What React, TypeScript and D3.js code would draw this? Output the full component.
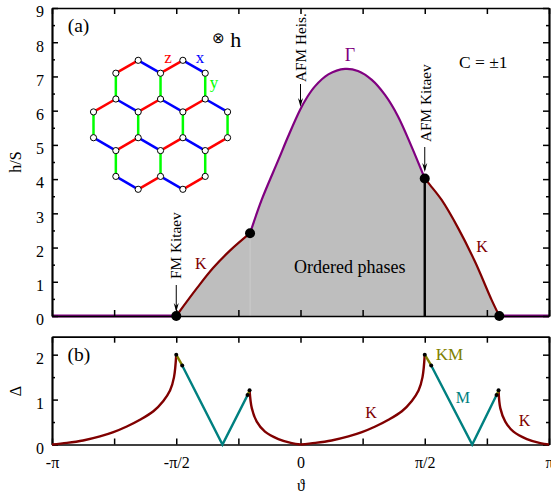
import React, { useEffect, useRef } from 'react';
import * as d3 from 'd3';

// angles are in units of pi
const kLeftTheta = [-0.5, -0.416, -0.352, -0.284, -0.203];
const kLeftH = [0, 0.82, 1.4, 1.91, 2.42];
const gammaTheta = [-0.203, -0.156, -0.089, -0.049, -0.002, 0.026, 0.058, 0.112, 0.179, 0.231, 0.287, 0.34, 0.392, 0.447, 0.5];
const gammaH = [2.42, 3.4, 4.56, 5.26, 6.02, 6.385, 6.71, 7.06, 7.22, 7.16, 6.9, 6.46, 5.84, 4.95, 4.02];
const kRightTheta = [0.5, 0.521, 0.568, 0.635, 0.702, 0.769, 0.8];
const kRightH = [4.02, 3.83, 3.39, 2.56, 1.59, 0.47, 0];
const zeroLeftTheta = [-1, -0.5];
const zeroRightTheta = [0.8, 1];
const phasePointTheta = [-0.5, -0.203, 0.5, 0.8];
const phasePointH = [0, 2.42, 4.02, 0];

const gapK1Theta = [-1, -0.94, -0.875, -0.807, -0.753, -0.699, -0.646, -0.592, -0.552, -0.525, -0.509, -0.5];
const gapK1 = [0, 0.035, 0.09, 0.18, 0.275, 0.4, 0.55, 0.74, 0.97, 1.2, 1.5, 2.0];
const gapKM1Theta = [-0.5, -0.476];
const gapKM1 = [2.0, 1.76];
const gapM1Theta = [-0.476, -0.314, -0.213];
const gapM1 = [1.76, 0, 1.1];
const gapKM2Theta = [-0.213, -0.205];
const gapKM2 = [1.1, 1.21];
const gapK2Theta = [-0.205, -0.196, -0.176, -0.143, -0.089, -0.035, 0];
const gapK2 = [1.21, 0.81, 0.51, 0.285, 0.12, 0.03, 0];
const gapK3Theta = [0, 0.06, 0.125, 0.193, 0.247, 0.301, 0.354, 0.408, 0.448, 0.475, 0.491, 0.5];
const gapK3 = [0, 0.035, 0.09, 0.18, 0.275, 0.4, 0.55, 0.74, 0.97, 1.2, 1.5, 2.0];
const gapKM3Theta = [0.5, 0.526];
const gapKM3 = [2.0, 1.76];
const gapM2Theta = [0.526, 0.691, 0.789];
const gapM2 = [1.76, 0, 1.1];
const gapKM4Theta = [0.789, 0.797];
const gapKM4 = [1.1, 1.21];
const gapK4Theta = [0.797, 0.804, 0.824, 0.857, 0.911, 0.965, 1];
const gapK4 = [1.21, 0.81, 0.51, 0.285, 0.12, 0.03, 0];
const gapPointTheta = [-0.5, -0.476, -0.213, -0.205, 0.5, 0.526, 0.789, 0.797];
const gapPoint = [2.0, 1.76, 1.1, 1.21, 2.0, 1.76, 1.1, 1.21];

const thetaTicks = [-1, -0.75, -0.5, -0.25, 0, 0.25, 0.5, 0.75, 1];
const thetaLabels = new Map([[-1, '-π'], [-0.5, '-π/2'], [0, '0'], [0.5, 'π/2'], [1, 'π']]);
const hTicks = [0, 1, 2, 3, 4, 5, 6, 7, 8, 9];
const hMinor = [0.5, 1.5, 2.5, 3.5, 4.5, 5.5, 6.5, 7.5, 8.5];
const gapTicks = [0, 1, 2];
const gapMinor = [0.5, 1.5];

// honeycomb sites: hex column index and row height in bond lengths
const latticeColumns = [
  [2, 4], [1, 3, 5], [1, 3, 5], [0, 2, 4, 6], [0, 2, 4, 6], [1, 3, 5], [1, 3, 5], [2, 4],
];
const latticeRows = [0, 0.5, 1.5, 2, 3, 3.5, 4.5, 5];

const K_COLOR = '#800000';
const GAMMA_COLOR = '#800080';
const M_COLOR = '#008080';
const KM_COLOR = '#808000';
const SERIF = '"Liberation Serif", "Times New Roman", serif';

const zip = (a: number[], b: number[]) => a.map((v, i) => [v, b[i]] as [number, number]);

const App = () => {
  const svgRef = useRef<SVGSVGElement>(null);

  useEffect(() => {
    const svg = d3.select(svgRef.current);
    svg.selectAll('*').remove();
    svg.attr('font-family', SERIF);

    const x = d3.scaleLinear().domain([-1, 1]).range([52, 549]);
    const yA = d3.scaleLinear().domain([0, 9]).range([316, 8]);
    const yB = d3.scaleLinear().domain([0, 2.4]).range([444.5, 336.7]);

    const smooth = d3.curveCatmullRom.alpha(0.5);
    const lineA = d3.line<[number, number]>().x(d => x(d[0])).y(d => yA(d[1])).curve(smooth);
    const lineB = d3.line<[number, number]>().x(d => x(d[0])).y(d => yB(d[1])).curve(smooth);
    const straightB = d3.line<[number, number]>().x(d => x(d[0])).y(d => yB(d[1]));

    // Panel a: filled phase region, one piece per boundary so the kinks stay sharp
    const area = d3.area<[number, number]>()
      .x(d => x(d[0])).y0(yA(0)).y1(d => yA(d[1])).curve(smooth);
    [zip(kLeftTheta, kLeftH), zip(gammaTheta, gammaH), zip(kRightTheta, kRightH)].forEach(part =>
      svg.append('path').attr('d', area(part)).attr('fill', '#bebebe'));
    svg.append('line')
      .attr('x1', x(-0.203)).attr('x2', x(-0.203)).attr('y1', yA(0)).attr('y2', yA(2.42))
      .attr('stroke', '#cacaca').attr('stroke-width', 1);

    const drawLine = (path, data, color, width = 2.2) =>
      svg.append('path').attr('d', path(data)).attr('fill', 'none')
        .attr('stroke', color).attr('stroke-width', width);

    drawLine(lineA, zip(zeroLeftTheta, [0, 0]), GAMMA_COLOR, 3);
    drawLine(lineA, zip(zeroRightTheta, [0, 0]), GAMMA_COLOR, 3);

    // Frames and ticks
    const drawAxes = (y, top, bottom, major, minor, labels) => {
      const g = svg.append('g').attr('color', '#000');
      const axes = [
        { axis: d3.axisBottom(x).tickValues(thetaTicks).tickSize(-6), at: [0, bottom], kind: labels ? 'x' : '' },
        { axis: d3.axisTop(x).tickValues(thetaTicks).tickSize(-6), at: [0, top], kind: '' },
        { axis: d3.axisLeft(y).tickValues(major).tickSize(-6), at: [x(-1), 0], kind: 'y' },
        { axis: d3.axisRight(y).tickValues(major).tickSize(-6), at: [x(1), 0], kind: '' },
        { axis: d3.axisLeft(y).tickValues(minor).tickSize(-3), at: [x(-1), 0], kind: '' },
        { axis: d3.axisRight(y).tickValues(minor).tickSize(-3), at: [x(1), 0], kind: '' },
      ];
      axes.forEach(({ axis, at, kind }) => {
        axis.tickSizeOuter(0).tickPadding(kind === 'x' ? 12 : 8);
        if (kind === 'x') axis.tickFormat(d => thetaLabels.get(+d) ?? '');
        else if (kind === 'y') axis.tickFormat(d => String(d));
        else axis.tickFormat(() => '');
        const a = g.append('g').attr('transform', `translate(${at[0]},${at[1]})`).call(axis);
        a.attr('font-family', SERIF).attr('font-size', 16);
        a.selectAll('line').attr('stroke-width', 1.5);
        a.select('.domain').attr('stroke-width', 1.7);
        if (kind === 'y') a.selectAll('text').attr('dy', '0.55em');
      });
    };
    drawAxes(yA, 8, 316, hTicks, hMinor, false);
    drawAxes(yB, 336.7, 444.5, gapTicks, gapMinor, true);

    // Panel a: curves
    drawLine(lineA, zip(kLeftTheta, kLeftH), K_COLOR);
    drawLine(lineA, zip(gammaTheta, gammaH), GAMMA_COLOR);
    drawLine(lineA, zip(kRightTheta, kRightH), K_COLOR);
    svg.append('line')
      .attr('x1', x(0.5)).attr('x2', x(0.5)).attr('y1', yA(0)).attr('y2', yA(4.02))
      .attr('stroke', '#000').attr('stroke-width', 2.4);
    svg.append('g').selectAll('circle').data(zip(phasePointTheta, phasePointH)).join('circle')
      .attr('cx', d => x(d[0])).attr('cy', d => yA(d[1])).attr('r', 5).attr('fill', '#000');

    // Panel b: curves
    [
      [gapK1Theta, gapK1, K_COLOR], [gapK2Theta, gapK2, K_COLOR],
      [gapK3Theta, gapK3, K_COLOR], [gapK4Theta, gapK4, K_COLOR],
    ].forEach(([t, v, c]: any) => drawLine(lineB, zip(t, v), c, 2.4));
    [
      [gapKM1Theta, gapKM1, KM_COLOR], [gapKM2Theta, gapKM2, KM_COLOR],
      [gapKM3Theta, gapKM3, KM_COLOR], [gapKM4Theta, gapKM4, KM_COLOR],
      [gapM1Theta, gapM1, M_COLOR], [gapM2Theta, gapM2, M_COLOR],
    ].forEach(([t, v, c]: any) => drawLine(straightB, zip(t, v), c, 2.4));
    svg.append('g').selectAll('circle').data(zip(gapPointTheta, gapPoint)).join('circle')
      .attr('cx', d => x(d[0])).attr('cy', d => yB(d[1])).attr('r', 2).attr('fill', '#000');

    // Arrows
    const arrow = (px: number, y1: number, y2: number) => {
      svg.append('line').attr('x1', px).attr('x2', px).attr('y1', y1).attr('y2', y2 - 2)
        .attr('stroke', '#000').attr('stroke-width', 1);
      const head = d3.path();
      head.moveTo(px - 2.5, y2 - 9);
      head.lineTo(px, y2);
      head.lineTo(px + 2.5, y2 - 9);
      head.lineTo(px, y2 - 6);
      head.closePath();
      svg.append('path').attr('d', head.toString()).attr('fill', '#000');
    };
    arrow(x(-0.5), 285, 312);
    arrow(x(0), 84, 107);
    arrow(x(0.5), 147, 172);

    // Text labels
    const text = (s, px, py, size, color = '#000', anchor = 'middle', rotate = false) => {
      const t = svg.append('text').text(s).attr('font-size', size).attr('fill', color)
        .attr('text-anchor', anchor);
      if (rotate) t.attr('transform', `translate(${px},${py}) rotate(-90)`);
      else t.attr('x', px).attr('y', py);
    };
    text('(a)', 78.5, 32, 19.5);
    text('(b)', 78.8, 361, 19.5);
    text('⊗', 218, 43, 15);
    text('h', 235.7, 47, 22);
    text('C = ±1', 483.3, 67.7, 17.5);
    text('Γ', 350, 60.7, 18, GAMMA_COLOR);
    text('K', 200.8, 269, 16, K_COLOR);
    text('K', 482, 251.7, 16, K_COLOR);
    text('Ordered phases', 349.7, 272.7, 18);
    text('FM Kitaev', 181, 279, 15.3, '#000', 'start', true);
    text('AFM Heis.', 306, 82, 15.3, '#000', 'start', true);
    text('AFM Kitaev', 430.7, 142, 15.3, '#000', 'start', true);
    text('K', 371, 417.7, 16, K_COLOR);
    text('M', 462.8, 402.7, 16, M_COLOR);
    text('KM', 449.5, 360, 17, KM_COLOR);
    text('K', 524.5, 426, 16, K_COLOR);
    text('h/S', 21, 162, 16, '#000', 'middle', true);
    text('Δ', 21, 391, 16, '#000', 'middle', true);
    text('ϑ', 301, 491, 16);

    // Honeycomb inset
    const bond = 25.8;
    const latX = d3.scaleLinear().domain([0, 6]).range([93.5, 93.5 + 6 * bond * Math.sqrt(3) / 2]);
    const latY = d3.scaleLinear().domain([0, 5]).range([60.3, 60.3 + 5 * bond]);
    const sites = latticeColumns.flatMap((cols, level) => cols.map(col => ({ col, level })));
    const edges = [];
    sites.forEach(a => sites.forEach(b => {
      if (b.level !== a.level + 1) return;
      const vertical = a.col === b.col && latticeRows[b.level] - latticeRows[a.level] === 1;
      const diagonal = Math.abs(a.col - b.col) === 1 && latticeRows[b.level] - latticeRows[a.level] === 0.5;
      if (!vertical && !diagonal) return;
      edges.push({ a, b, color: vertical ? '#00ff00' : b.col < a.col ? '#ff0000' : '#0000ff' });
    }));
    svg.append('g').selectAll('line').data(edges).join('line')
      .attr('x1', d => latX(d.a.col)).attr('y1', d => latY(latticeRows[d.a.level]))
      .attr('x2', d => latX(d.b.col)).attr('y2', d => latY(latticeRows[d.b.level]))
      .attr('stroke', d => d.color).attr('stroke-width', 2.5);
    svg.append('g').selectAll('circle').data(sites).join('circle')
      .attr('cx', d => latX(d.col)).attr('cy', d => latY(latticeRows[d.level])).attr('r', 3.1)
      .attr('fill', '#fff').attr('stroke', '#000').attr('stroke-width', 1);
    text('z', 168, 63, 17, '#ff0000');
    text('x', 200, 63, 17, '#0000ff');
    text('y', 214, 88, 17, '#00ff00');
  }, []);

  return (
    <svg ref={svgRef} width={551} height={496}
      style={{ position: 'absolute', left: 0, top: 0, background: '#fff' }} />
  );
};

export default App;
